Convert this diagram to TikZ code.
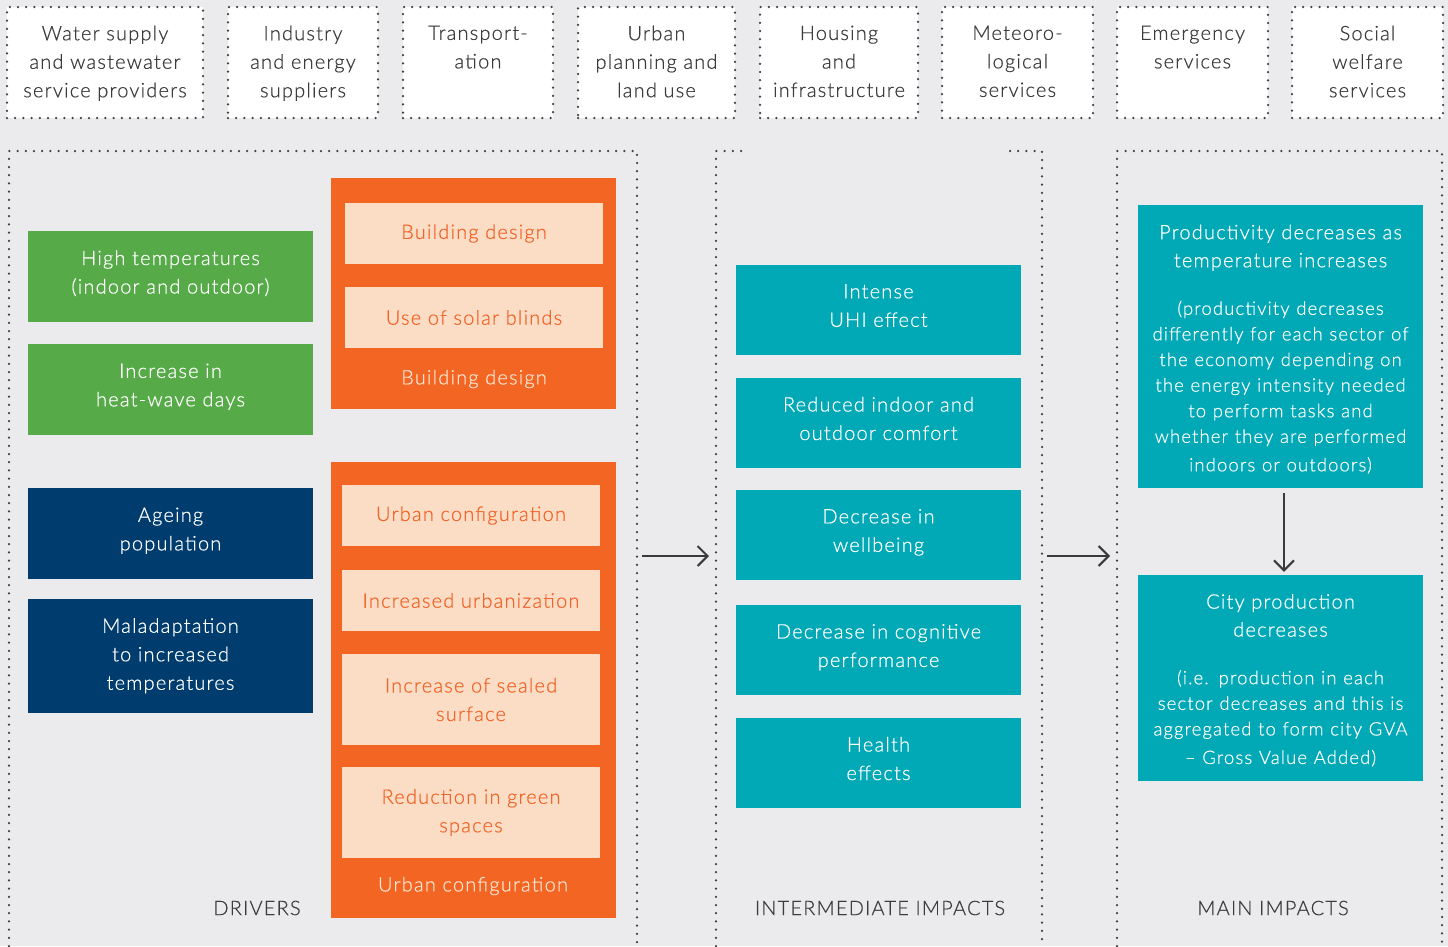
\documentclass[tikz,border=0pt]{standalone}
\usepackage{fontspec}
\IfFontExistsTF{Lato Light}{\setmainfont{Lato Light}[LetterSpace=6,FakeBold=0.5]}{\setmainfont{Lato}[LetterSpace=6]}
\usetikzlibrary{arrows.meta}
\definecolor{bg}{HTML}{EBEBED}
\definecolor{dotc}{HTML}{3F3F3F}
\definecolor{txtgrey}{HTML}{3C3C3C}
\definecolor{greenc}{HTML}{56AB48}
\definecolor{navyc}{HTML}{003D6E}
\definecolor{orangec}{HTML}{F26522}
\definecolor{lightor}{HTML}{FBDCC4}
\definecolor{ortext}{HTML}{F0652A}
\definecolor{oclabel}{HTML}{FDE3D0}
\definecolor{tealc}{HTML}{00A9B5}
\definecolor{arrc}{HTML}{3A3A3A}
\tikzset{
  dotline/.style={draw=dotc, line width=2.5pt, line cap=round, dash pattern=on 0pt off 8.2pt},
  topbox/.style={dotline, fill=white, minimum height=111pt, inner sep=0pt},
  toptext/.style={anchor=north, align=center, inner sep=0pt, text=txtgrey, font=\fontsize{20}{28.5}\selectfont},
  filled/.style={minimum width=285pt, inner sep=0pt, align=center, font=\fontsize{20}{28.5}\selectfont},
  multi/.style={text depth=9pt},
  greenbox/.style={filled, multi, fill=greenc, text=white, minimum height=91pt},
  navybox/.style={filled, multi, fill=navyc, text=white},
  orbox/.style={filled, fill=orangec},
  inbox/.style={filled, fill=lightor, text=ortext, minimum width=258pt},
  orlabel/.style={inner sep=0pt, text=oclabel, font=\fontsize{20}{28.5}\selectfont},
  tealbox/.style={filled, fill=tealc, text=white},
  midbox/.style={tealbox, multi, minimum height=90pt},
  mainbox/.style={tealbox, text width=285pt},
  seclabel/.style={inner sep=0pt, text=txtgrey, font=\fontsize{20}{24}\selectfont},
  arr/.style={draw=arrc, line width=2pt, -{Straight Barb[length=10pt,width=20pt,line width=2pt]}}
}
\begin{document}
\begin{tikzpicture}[x=1pt,y=-1pt]
\fill[bg] (0,0) rectangle (1448,946);
\useasboundingbox (0,0) rectangle (1448,946);

% top row
\node[topbox, minimum width=196pt] (t1) at (105,62.5) {};
\node[topbox, minimum width=150pt] (t2) at (303,62.5) {};
\node[topbox, minimum width=150pt] (t3) at (478,62.5) {};
\node[topbox, minimum width=157pt] (t4) at (656.5,62.5) {};
\node[topbox, minimum width=158pt] (t5) at (839,62.5) {};
\node[topbox, minimum width=151pt] (t6) at (1017.5,62.5) {};
\node[topbox, minimum width=151pt] (t7) at (1192.5,62.5) {};
\node[topbox, minimum width=151pt] (t8) at (1367.5,62.5) {};
\node[toptext] (tt1) at (105,25.5) {Water supply\\and wastewater\\service providers};
\node[toptext] (tt2) at (303,25.5) {Industry\\and energy\\suppliers};
\node[toptext] (tt3) at (478,25.5) {Transport-\\ation};
\node[toptext] (tt4) at (656.5,25.5) {Urban\\planning and\\land use};
\node[toptext] (tt5) at (839,25.5) {Housing\\and\\infrastructure};
\node[toptext] (tt6) at (1017.5,25.5) {Meteoro-\\logical\\services};
\node[toptext] (tt7) at (1192.5,25.5) {Emergency\\services};
\node[toptext] (tt8) at (1367.5,25.5) {Social\\welfare\\services};

% containers
\draw[dotline] (9,946) -- (9,151) -- (637,151) -- (637,946);
\draw[dotline] (716,946) -- (716,151) -- (746,151);
\draw[dotline] (1010,151) -- (1042,151) -- (1042,946);
\draw[dotline] (1117,946) -- (1117,151) -- (1442,151) -- (1442,946);

% drivers
\node[greenbox] (g1) at (170.5,276.5) {High temperatures\\(indoor and outdoor)};
\node[greenbox] (g2) at (170.5,389.5) {Increase in\\heat-wave days};
\node[navybox, minimum height=91pt] (n1) at (170.5,533.5) {Ageing\\population};
\node[navybox, minimum height=114pt, text depth=4pt] (n2) at (170.5,656) {Maladaptation\\to increased\\temperatures};

\node[orbox, minimum height=231pt] (o1) at (473.5,293.5) {};
\node[inbox, minimum height=61pt] (o1a) at (474,233.5) {Building design};
\node[inbox, minimum height=61pt] (o1b) at (474,317.5) {Use of solar blinds};
\node[orlabel] (o1l) at (474,379) {Building design};

\node[orbox, minimum height=456pt] (o2) at (473.5,690) {};
\node[inbox, minimum height=61pt] (o2a) at (471,515.5) {Urban configuration};
\node[inbox, minimum height=61pt] (o2b) at (471,600.5) {Increased urbanization};
\node[inbox, minimum height=91pt] (o2c) at (471,699.5) {Increase of sealed\\surface};
\node[inbox, minimum height=91pt] (o2d) at (471,812.5) {Reduction in green\\spaces};
\node[orlabel] (o2l) at (473,886) {Urban configuration};

\node[seclabel] (l1) at (257,908) {DRIVERS};

% intermediate
\node[midbox] (i1) at (878.5,310) {Intense\\UHI effect};
\node[midbox] (i2) at (878.5,423) {Reduced indoor and\\outdoor comfort};
\node[midbox] (i3) at (878.5,535) {Decrease in\\wellbeing};
\node[midbox] (i4) at (878.5,650) {Decrease in cognitive\\performance};
\node[midbox] (i5) at (878.5,763) {Health\\effects};
\node[seclabel] (l2) at (880,908) {INTERMEDIATE IMPACTS};

% main
\node[mainbox, minimum height=283pt] (m1) at (1280.5,346.5) {%
\fontsize{20}{28}\selectfont \rule{0pt}{20pt}Productivity decreases as\\temperature increases\par
\vspace{22pt}%
\fontsize{18.5}{25.6}\selectfont (productivity decreases\\differently for each sector of\\the economy depending on\\the energy intensity needed\\to perform tasks and\\whether they are performed\\indoors or outdoors)};
\node[mainbox, minimum height=206pt] (m2) at (1280.5,678) {%
\fontsize{20}{28}\selectfont \rule{0pt}{19pt}City production\\decreases\par
\vspace{22pt}%
\fontsize{18.5}{25.6}\selectfont (i.e. production in each\\sector decreases and this is\\aggregated to form city GVA\\– Gross Value Added)};
\node[seclabel] (l3) at (1273,908) {MAIN IMPACTS};

% arrows
\coordinate (a1s) at (642,556);
\coordinate (a1e) at (709,556);
\coordinate (a2s) at (1047,556);
\coordinate (a2e) at (1110,556);
\draw[arr] (a1s) -- (a1e);
\draw[arr] (a2s) -- (a2e);
\draw[arr] ([xshift=3.5pt,yshift=-5pt]m1.south) -- ([xshift=3.5pt,yshift=3pt]m2.north);
\end{tikzpicture}
\end{document}
